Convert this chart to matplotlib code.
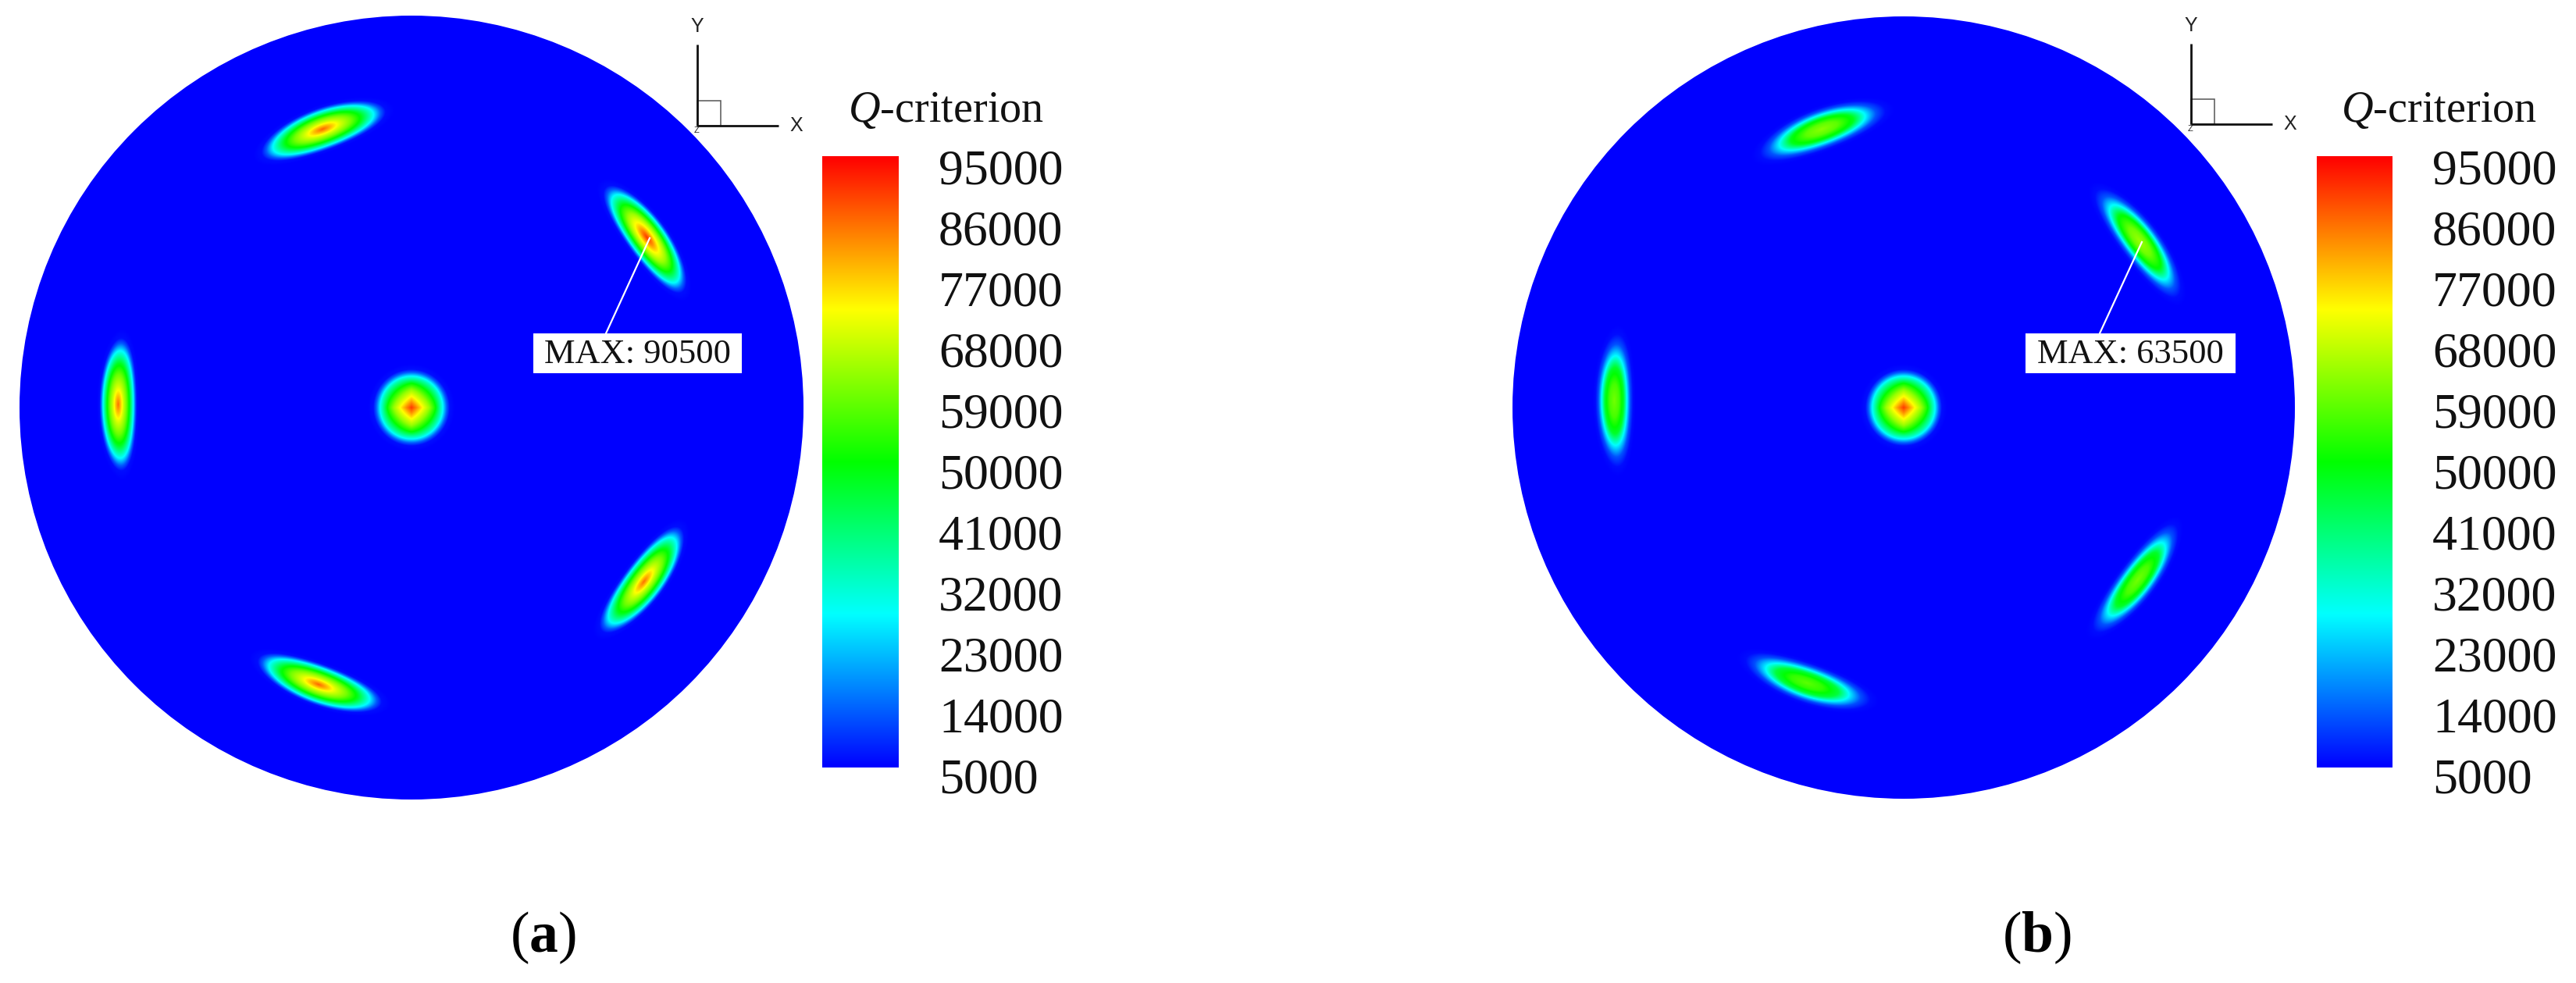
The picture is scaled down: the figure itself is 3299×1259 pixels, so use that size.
import numpy as np
import matplotlib
matplotlib.use("Agg")
import matplotlib.pyplot as plt
from matplotlib.colors import LinearSegmentedColormap
from matplotlib.patches import Circle, Rectangle
from matplotlib.transforms import ScaledTranslation, blended_transform_factory

W, H, DPI = 3299, 1259, 100
plt.rcParams['font.family'] = ['Liberation Serif', 'DejaVu Serif']
plt.rcParams['mathtext.fontset'] = 'custom'
plt.rcParams['mathtext.rm'] = 'Liberation Serif'
plt.rcParams['mathtext.it'] = 'Liberation Serif:italic'
plt.rcParams['mathtext.bf'] = 'Liberation Serif:bold'

# ---- data ----
tick_values = [5000, 14000, 23000, 32000, 41000, 50000, 59000, 68000, 77000, 86000, 95000]
panel_names = ['a', 'b']
max_labels = ['MAX: 90500', 'MAX: 63500']
colour_title = r'$\mathit{Q}$-criterion'

# hub and blade-core positions in px from the disc centre (x right, y up)
hub_peak = [90000, 90000]
hub_radius = 49
blade_x_a = [-376, -114, 302, 298, -119]
blade_y_a = [4, 357, 218, -223, -355]
blade_semi_major_a = [85, 84, 83, 83, 84]
blade_semi_minor_a = [24, 27, 26, 26, 26]
blade_angle_a = [90, 20, -54, 53, -20]
blade_peak_a = [85000, 86000, 90500, 85000, 86000]

blade_x_b = [-371, -105, 303, 300, -124]
blade_y_b = [9, 357, 213, -221, -353]
blade_semi_major_b = [85, 85, 85, 85, 84]
blade_semi_minor_b = [24, 26, 25, 24, 25]
blade_angle_b = [90, 20, -53, 53, -19]
blade_peak_b = [60000, 62000, 63500, 60000, 58000]

# value profile across a core: normalised distance vs. fraction of peak height
profile_d_a = [0.0, 0.14, 0.28, 0.45, 0.62, 0.82, 0.92, 1.0, 1.15]
profile_f_a = [1.0, 0.90, 0.79, 0.68, 0.53, 0.265, 0.10, 0.015, 0.0]
profile_d_b = [0.0, 0.25, 0.50, 0.68, 0.85, 1.0, 1.15]
profile_f_b = [1.0, 0.93, 0.75, 0.40, 0.13, 0.02, 0.0]

blade_bend = 4
background = 5000

# ---- layout in reference pixels ----
disc_cx = [527, 2438]
disc_cy = [522, 522]
disc_r = [502, 501]
bar_x0 = [1053, 2967]
bar_x1 = [1151, 3064]
bar_y0, bar_y1 = 200, 983
tick_x = [1202, 3115]
title_x = [1086, 2998]
title_y = 156
triad_x = [893, 2806]
triad_y = [161, 159]
triad_top = [57, 56]
triad_len_x = 104
triad_box = 30
triad_box_h = 32
box_l = [683, 2594]
box_r = [950, 2863]
box_t, box_b = 427, 478
lead_x0 = [776, 2689]
lead_x1 = [832, 2743]
lead_y1 = [305, 310]
caption_x = [695, 2608]
caption_y = 1219

cmap = LinearSegmentedColormap.from_list(
    'tecplot', ['#0000ff', '#00ffff', '#00ff00', '#ffff00', '#ff0000'], N=1024)
norm = plt.Normalize(tick_values[0], tick_values[-1])


def axes_box(x0, x1, y0, y1):
    return [x0 / W, 1 - y1 / H, (x1 - x0) / W, (y1 - y0) / H]


def field(X, Y, peak_hub, bx, by, ba, bb, bang, bpeak, pd, pf):
    Z = np.full(X.shape, float(background))
    d2 = np.hypot(X, Y) / hub_radius
    d1 = (np.abs(X) + np.abs(Y)) / hub_radius
    w = np.clip(d2 / 0.75, 0, 1)
    d = (1 - w) * 0.88 * d1 + w * d2
    Z = np.maximum(Z, background + (peak_hub - background) * np.interp(d, profile_d_a, profile_f_a))
    for x0, y0, a, b, ang, p in zip(bx, by, ba, bb, bang, bpeak):
        t = np.radians(ang)
        ux, uy = np.cos(t), np.sin(t)
        vx, vy = -uy, ux
        sign = np.sign(-(x0 * vx + y0 * vy))
        if sign == 0:
            sign = 1.0
        u = (X - x0) * ux + (Y - y0) * uy
        v = (X - x0) * vx + (Y - y0) * vy
        v = v - sign * blade_bend * (u / a) ** 2
        dd = np.hypot(u / a, v / b)
        Z = np.maximum(Z, background + (p - background) * np.interp(dd, pd, pf))
    return Z


blades = [
    (blade_x_a, blade_y_a, blade_semi_major_a, blade_semi_minor_a, blade_angle_a, blade_peak_a,
     profile_d_a, profile_f_a),
    (blade_x_b, blade_y_b, blade_semi_major_b, blade_semi_minor_b, blade_angle_b, blade_peak_b,
     profile_d_b, profile_f_b),
]

fig = plt.figure(figsize=(W / DPI, H / DPI), dpi=DPI, facecolor='white')

for i in range(2):
    cx, cy, r = disc_cx[i], disc_cy[i], disc_r[i]
    ax = fig.add_axes(axes_box(cx - r, cx + r, cy - r, cy + r))
    xs = np.linspace(-r, r, 2 * r)
    X, Y = np.meshgrid(xs, xs)
    Z = field(X, Y, hub_peak[i], *blades[i])
    im = ax.imshow(Z, origin='lower', extent=(-r, r, -r, r), cmap=cmap, norm=norm,
                   interpolation='bilinear', aspect='equal')
    clip = Circle((0, 0), r, transform=ax.transData)
    im.set_clip_path(clip)
    ax.set_xlim(-r, r)
    ax.set_ylim(-r, r)
    ax.axis('off')

    # colour bar
    cb = fig.add_axes(axes_box(bar_x0[i], bar_x1[i], bar_y0, bar_y1))
    grad = np.linspace(tick_values[0], tick_values[-1], 512)[:, None]
    cb.imshow(grad, origin='lower', aspect='auto', cmap=cmap, norm=norm,
              extent=(0, 1, tick_values[0], tick_values[-1]), interpolation='bilinear')
    cb.set_xticks([])
    cb.set_yticks([])
    for s in cb.spines.values():
        s.set_visible(False)
    base = blended_transform_factory(fig.transFigure, cb.transData)
    for v in tick_values:
        off = 36 - 4 * (tick_values[-1] - v) / (tick_values[-1] - tick_values[0])
        tr = base + ScaledTranslation(0, -off / DPI, fig.dpi_scale_trans)
        cb.text(tick_x[i] / W, v, str(v), transform=tr, ha='left', va='baseline',
                fontsize=46, color='#111111', clip_on=False)

# overlay in reference pixels for annotations
ov = fig.add_axes([0, 0, 1, 1], zorder=10)
ov.set_xlim(0, W)
ov.set_ylim(H, 0)
ov.axis('off')
ov.patch.set_alpha(0)

for i in range(2):
    tx, ty, tt = triad_x[i], triad_y[i], triad_top[i]
    ov.add_patch(Rectangle((tx, ty - triad_box_h), triad_box, triad_box_h, fill=False,
                           ec='#555555', lw=1.1))
    ov.plot([tx, tx], [tt, ty], color='#111111', lw=2.0, solid_capstyle='butt')
    ov.plot([tx, tx + triad_len_x], [ty, ty], color='#111111', lw=2.0, solid_capstyle='butt')
    ov.text(tx, tt - 23, 'Y', family='Liberation Sans', fontsize=18, ha='center', va='center',
            color='#222222')
    ov.text(tx + triad_len_x + 23, ty, 'X', family='Liberation Sans', fontsize=18, ha='center',
            va='center', color='#222222')
    ov.text(tx - 1, ty + 6, 'Z', family='Liberation Sans', fontsize=8, ha='center', va='center',
            color='#222222')

    ov.text(title_x[i], title_y, colour_title, fontsize=40.5, ha='left', va='baseline', color='#111111')

    ov.plot([lead_x0[i], lead_x1[i]], [box_t, lead_y1[i]], color='white', lw=1.6)
    ov.add_patch(Rectangle((box_l[i], box_t), box_r[i] - box_l[i], box_b - box_t,
                           fc='white', ec='none'))
    ov.text((box_l[i] + box_r[i]) / 2, (box_t + box_b) / 2 + 1, max_labels[i], fontsize=32,
            ha='center', va='center', color='#111111')

    ov.text(caption_x[i], caption_y, '($\\mathbf{%s}$)' % panel_names[i], fontsize=53,
            ha='center', va='baseline', color='black')

fig.savefig('out.png', dpi=DPI, facecolor='white')
